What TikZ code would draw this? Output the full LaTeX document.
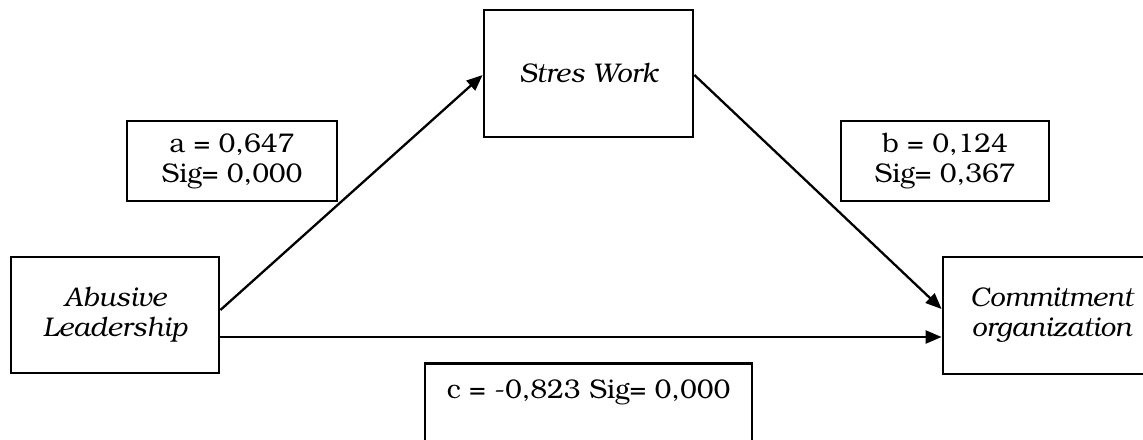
\documentclass[tikz,border=0pt]{standalone}
\usepackage{fontspec}
\setmainfont{TeX Gyre Bonum}
\usetikzlibrary{arrows.meta}
\begin{document}
\begin{tikzpicture}[x=1pt,y=-1pt,
  box/.style={draw=black,line width=2.8pt,inner sep=0pt,align=center,
    font=\fontsize{27}{30}\selectfont},
  arr/.style={line width=2.3pt,-{Triangle[length=16pt,width=13pt]}}]
\useasboundingbox (0,0) rectangle (1143,439);
\fill[white] (0,0) rectangle (1143,439);
% main boxes
\node[box,minimum width=209pt,minimum height=127pt] (stres) at (588.5,73.5) {\itshape Stres Work};
\node[box,minimum width=208pt,minimum height=116pt] (abusive) at (115,315) {\itshape Abusive\\\itshape Leadership};
\node[box,minimum width=217pt,minimum height=117pt,text width=205pt] (commit) at (1051.5,315.5) {\itshape Commitment\\\itshape organization};
% coefficient boxes
\node[box,minimum width=210pt,minimum height=80pt] (abox) at (232,161) {a = 0,647\\Sig= 0,000};
\node[box,minimum width=208pt,minimum height=80pt] (bbox) at (945,161) {b = 0,124\\Sig= 0,367};
\node[box,minimum width=327pt,minimum height=120pt,anchor=north] (cbox) at (588.5,362) {};
\node[font=\fontsize{27}{30}\selectfont,anchor=base] (ctext) at (588.5,398) {c = -0,823 Sig= 0,000};
% connectors
\draw[arr] ([yshift=5pt]abusive.east) -- ([yshift=-1.5pt]stres.west);
\draw[arr] ([yshift=-1.5pt]stres.east) -- ([yshift=6.5pt]commit.west);
\draw[arr] ([yshift=-22pt]abusive.east) -- ([yshift=-21.5pt]commit.west);
\end{tikzpicture}
\end{document}
